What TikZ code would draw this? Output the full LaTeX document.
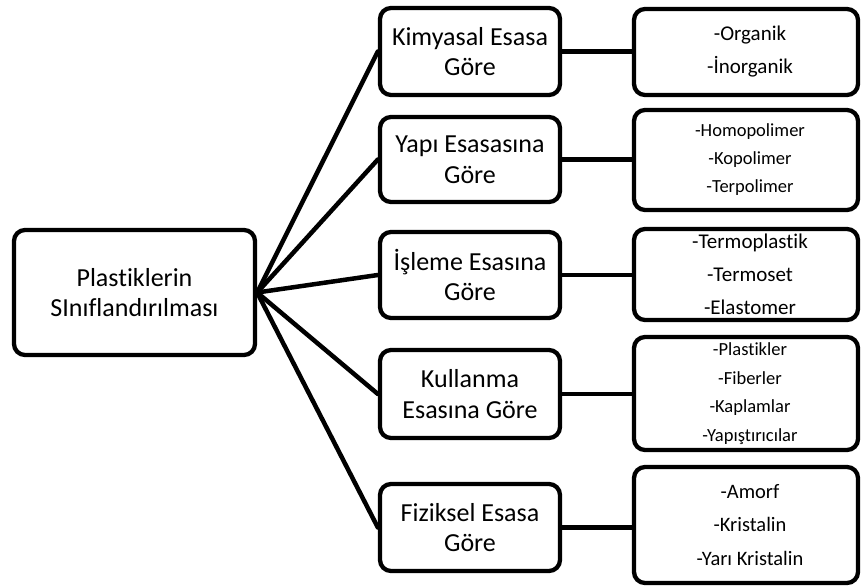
\documentclass[tikz,border=0pt]{standalone}
\usepackage{fontspec}
\setmainfont{Carlito}[Ligatures=NoCommon]
\begin{document}
\begin{tikzpicture}[x=1pt,y=-1pt,
  box/.style={draw=black,line width=4.3pt,rounded corners=11pt,fill=white,inner sep=0pt,align=center},
  link/.style={line width=4.5pt,line cap=round},
  txt/.style={inner sep=0pt,align=center}]
\useasboundingbox (0,0) rectangle (862,588);
% root
\node[box,minimum width=241pt,minimum height=125pt,font=\fontsize{26}{29.5}\selectfont] (root) at (134.5,292.5) {Plastiklerin\\SInıflandırılması};
% middle column
\tikzset{mid/.style={box,minimum width=180pt,font=\fontsize{26}{30.5}\selectfont}}
\node[mid,minimum height=87pt] (m1) at (470,51.5) {Kimyasal Esasa\\Göre};
\node[mid,minimum height=85pt] (m2) at (470,159.5) {Yapı Esasasına\\Göre};
\node[mid,minimum height=86pt] (m3) at (470,275) {İşleme Esasına\\Göre};
\node[mid,minimum height=88pt] (m4) at (470,394) {Kullanma\\Esasına Göre};
\node[mid,minimum height=87pt] (m5) at (470,527.5) {Fiziksel Esasa\\Göre};
% right column
\tikzset{rgt/.style={box,minimum width=224pt}}
\node[rgt,minimum height=86pt] (r1) at (746,52) {};
\node[rgt,minimum height=100pt] (r2) at (746,160) {};
\node[rgt,minimum height=91pt] (r3) at (746,274.5) {};
\node[rgt,minimum height=113pt] (r4) at (746,393.5) {};
\node[rgt,minimum height=116pt] (r5) at (746,525) {};
\node[txt,font=\fontsize{21}{33}\selectfont] (t1) at (750,52) {-Organik\\-İnorganik};
\node[txt,font=\fontsize{18.5}{28}\selectfont] (t2) at (750,160) {-Homopolimer\\-Kopolimer\\-Terpolimer};
\node[txt,font=\fontsize{21}{33}\selectfont] (t3) at (750,274.5) {-Termoplastik\\-Termoset\\-Elastomer};
\node[txt,font=\fontsize{18.5}{28.5}\selectfont] (t4) at (750,393.5) {-Plastikler\\-Fiberler\\-Kaplamlar\\-Yapıştırıcılar};
\node[txt,font=\fontsize{20.5}{33.5}\selectfont] (t5) at (750,525) {-Amorf\\-Kristalin\\-Yarı Kristalin};
% connectors
\foreach \i in {1,...,5}{
  \draw[link] (root.east) -- (m\i.west);
  \draw[link] (m\i.east) -- (m\i.east -| r\i.west);
}
\end{tikzpicture}
\end{document}
